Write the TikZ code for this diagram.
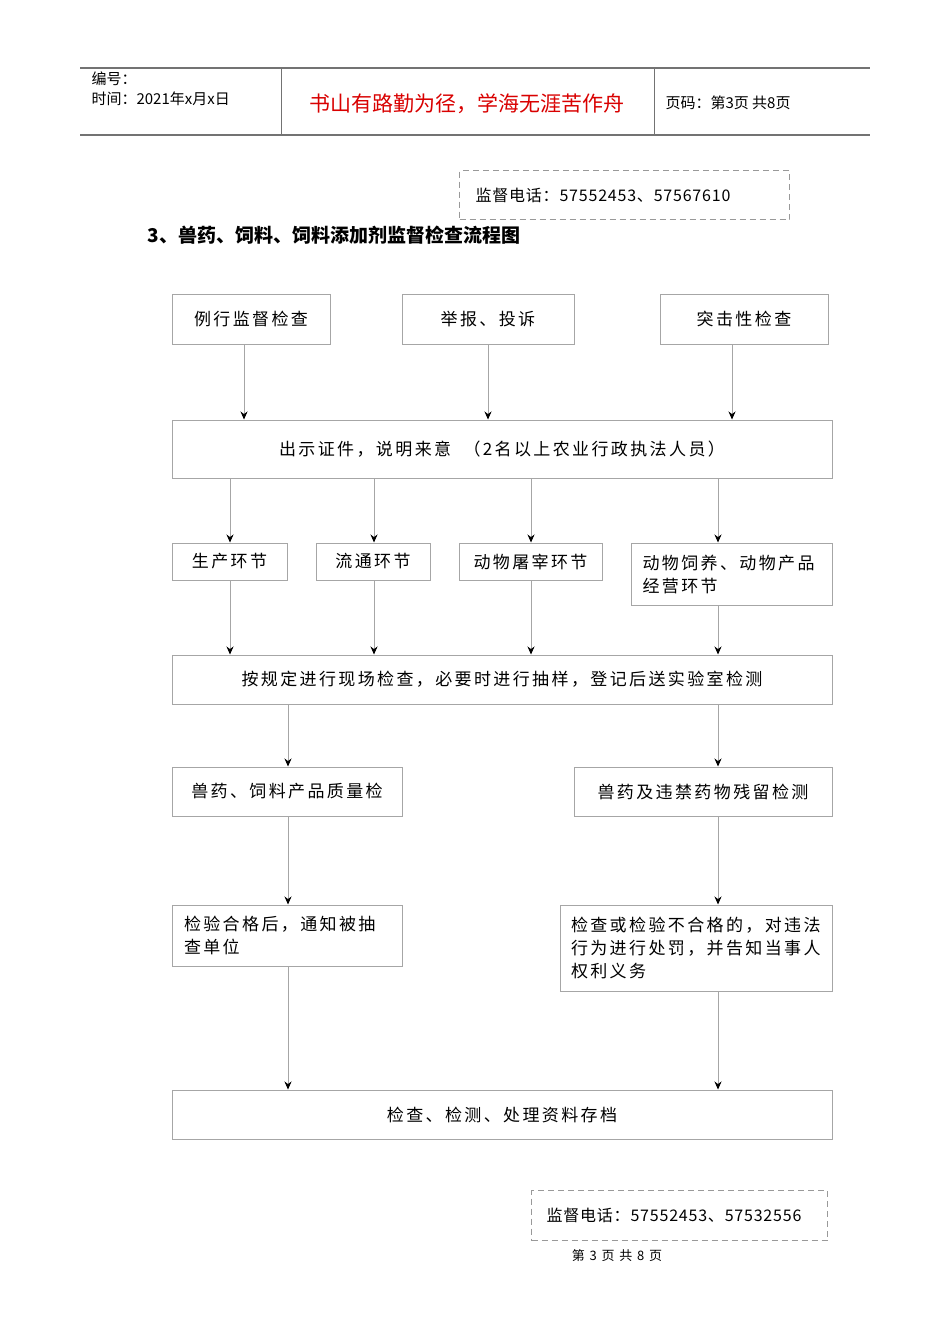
\documentclass[tikz,border=0pt]{standalone}
\usepackage{fontspec}
\setmainfont{Noto Sans CJK SC}[LetterSpace=0]
\newfontfamily\spfont{Noto Sans CJK SC}[LetterSpace=14]
\newfontfamily\phfont{Noto Sans CJK SC}[LetterSpace=5]
\usetikzlibrary{arrows.meta}
\tikzset{
  bxs/.style={draw=black!35,line width=1pt,inner sep=0pt,font=\spfont\fontsize{17}{23}\selectfont},
  arr/.style={draw=black!35,line width=0.8pt,-{Stealth[black,length=8pt,width=7pt]}},
  dbox/.style={draw=black!40,line width=1pt,dash pattern=on 6pt off 4pt,inner sep=0pt}
}
\newcommand\bx[7]{\node[bxs,minimum width={#4-#2},minimum height={#5-#3},#7] (#1) at ({(#2+#4)/2},{(#3+#5)/2}) {#6};}
\begin{document}
\begin{tikzpicture}[x=1pt,y=-1pt]
\useasboundingbox[fill=white] (0,0) rectangle (950,1344);
% header
\draw[black!55,line width=1.2pt] (80,68) -- (870,68);
\draw[black!55,line width=1.6pt] (80,135) -- (870,135);
\draw[black!55,line width=1pt] (281,68) -- (281,135) (654,68) -- (654,135);
\node[anchor=west,align=left,font=\fontsize{15}{20}\selectfont] (h1) at (88,89) {编号：\\时间：2021年x月x日};
\node[font=\fontsize{21}{24}\selectfont,text=red!85!black] (h2) at (467,104) {书山有路勤为径，学海无涯苦作舟};
\node[anchor=west,font=\fontsize{15}{20}\selectfont] (h3) at (662,103) {页码：第3页\ 共8页};
% phone boxes
\node[dbox,minimum width=330,minimum height=49,anchor=north west] (p1) at (459,170) {};
\node[anchor=west,font=\phfont\fontsize{16}{20}\selectfont] (p1t) at (472,195) {监督电话：57552453、57567610};
\node[dbox,minimum width=296,minimum height=50,anchor=north west] (p2) at (531,1190) {};
\node[anchor=west,font=\phfont\fontsize{16}{20}\selectfont] (p2t) at (543,1215) {监督电话：57552453、57532556};
% title
\node[anchor=west,font=\fontsize{19}{24}\selectfont\bfseries] (title) at (144,235) {3、兽药、饲料、饲料添加剂监督检查流程图};
% boxes
\bx{a1}{172}{294}{330}{344}{例行监督检查}{}
\bx{a2}{402}{294}{574}{344}{举报、投诉}{}
\bx{a3}{660}{294}{828}{344}{突击性检查}{}
\bx{b}{172}{420}{832}{478}{出示证件，说明来意\ \ （2名以上农业行政执法人员）}{}
\bx{c1}{172}{543}{287}{580}{生产环节}{}
\bx{c2}{316}{543}{430}{580}{流通环节}{}
\bx{c3}{459}{543}{602}{580}{动物屠宰环节}{}
\bx{c4}{631}{543}{832}{605}{动物饲养、动物产品\\经营环节}{align=left,text width=178pt}
\bx{d}{172}{655}{832}{704}{按规定进行现场检查，必要时进行抽样，登记后送实验室检测}{}
\bx{e1}{172}{767}{402}{816}{兽药、饲料产品质量检}{}
\bx{e2}{574}{767}{832}{816}{兽药及违禁药物残留检测}{}
\bx{f1}{172}{905}{402}{966}{检验合格后，通知被抽\\查单位}{align=left,text width=206pt}
\bx{f2}{560}{905}{832}{991}{检查或检验不合格的，对违法\\行为进行处罚，并告知当事人\\权利义务}{align=left,text width=250pt}
\bx{g}{172}{1090}{832}{1139}{检查、检测、处理资料存档}{}
% arrows
\draw[arr] (a1.south -| 244,0) -- (b.north -| 244,0);
\draw[arr] (a2.south -| 488,0) -- (b.north -| 488,0);
\draw[arr] (a3.south -| 732,0) -- (b.north -| 732,0);
\draw[arr] (b.south -| 230,0) -- (c1.north -| 230,0);
\draw[arr] (b.south -| 374,0) -- (c2.north -| 374,0);
\draw[arr] (b.south -| 531,0) -- (c3.north -| 531,0);
\draw[arr] (b.south -| 718,0) -- (c4.north -| 718,0);
\draw[arr] (c1.south -| 230,0) -- (d.north -| 230,0);
\draw[arr] (c2.south -| 374,0) -- (d.north -| 374,0);
\draw[arr] (c3.south -| 531,0) -- (d.north -| 531,0);
\draw[arr] (c4.south -| 718,0) -- (d.north -| 718,0);
\draw[arr] (d.south -| 288,0) -- (e1.north -| 288,0);
\draw[arr] (d.south -| 718,0) -- (e2.north -| 718,0);
\draw[arr] (e1.south -| 288,0) -- (f1.north -| 288,0);
\draw[arr] (e2.south -| 718,0) -- (f2.north -| 718,0);
\draw[arr] (f1.south -| 288,0) -- (g.north -| 288,0);
\draw[arr] (f2.south -| 718,0) -- (g.north -| 718,0);
% footer
\node[font=\spfont\fontsize{13}{16}\selectfont] (foot) at (617,1256) {第 3 页 共 8 页};
\end{tikzpicture}
\end{document}
